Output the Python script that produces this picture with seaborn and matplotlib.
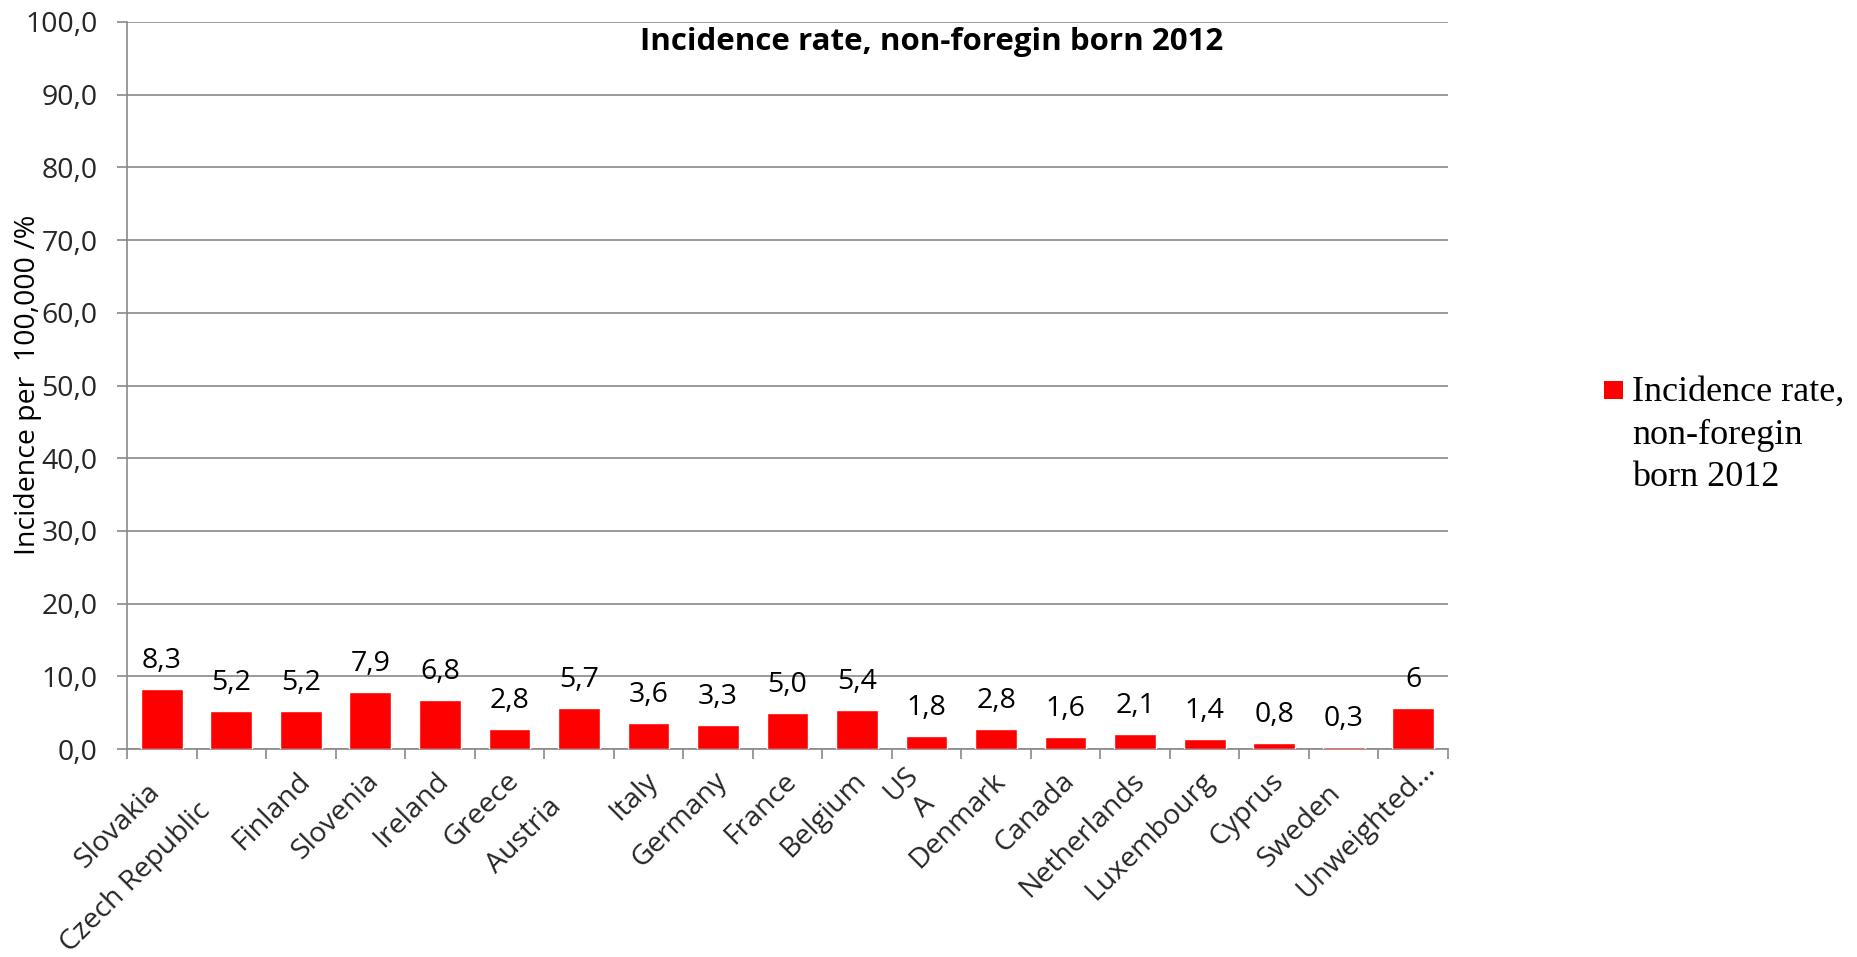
import matplotlib
matplotlib.use("Agg")
import matplotlib.pyplot as plt
import matplotlib.patches as mpatches
import matplotlib.transforms as mtransforms
from matplotlib.ticker import FixedLocator, FuncFormatter
import seaborn as sns
import pandas as pd
import numpy as np

# ---- data -------------------------------------------------------------
countries = ["Slovakia", "Czech Republic", "Finland", "Slovenia", "Ireland",
             "Greece", "Austria", "Italy", "Germany", "France", "Belgium",
             "USA", "Denmark", "Canada", "Netherlands", "Luxembourg",
             "Cyprus", "Sweden", "Unweighted..."]
tick_labels = ["Slovakia", "Czech Republic", "Finland", "Slovenia", "Ireland",
               "Greece", "Austria", "Italy", "Germany", "France", "Belgium",
               "US\nA", "Denmark", "Canada", "Netherlands", "Luxembourg",
               "Cyprus", "Sweden", "Unweighted..."]
rates = [8.3, 5.2, 5.2, 7.9, 6.8, 2.8, 5.7, 3.6, 3.3, 5.0, 5.4,
         1.8, 2.8, 1.6, 2.1, 1.4, 0.8, 0.3, 5.7]
label_decimals = [1] * 18 + [0]
y_ticks = [0, 10, 20, 30, 40, 50, 60, 70, 80, 90, 100]

title = "Incidence rate, non-foregin born 2012"
legend_label = "Incidence rate,\nnon-foregin\nborn 2012"
y_label = "Incidence per  100,000 /%"

# ---- style ------------------------------------------------------------
sns.set_theme(style="white")
plt.rcParams["font.family"] = ["Open Sans", "DejaVu Sans"]

BAR_RED = "#FF0000"
GRID_GREY = "#898989"
FS = 20.5
W, H, DPI = 1858, 957, 100

# slide of some rotated category labels along their own direction (px, + = down-left)
label_slide = {"Slovakia": 16, "Czech Republic": 43, "Austria": 37,
               "Sweden": 17, "Unweighted...": -18, "US\nA": 8}

fig = plt.figure(figsize=(W / DPI, H / DPI), dpi=DPI)
fig.patch.set_facecolor("white")

ax_left, ax_right = 127 / W, 1448 / W
ax_top, ax_bottom = 1 - 22 / H, 1 - 749 / H
ax = fig.add_axes([ax_left, ax_bottom, ax_right - ax_left, ax_top - ax_bottom])
ax.set_facecolor("white")

df = pd.DataFrame({"country": countries, "rate": rates})
sns.barplot(data=df, x="country", y="rate", color=BAR_RED, saturation=1,
            width=0.6, ax=ax, zorder=3)

# value labels above the bars, decimal comma
fmt_labels = [f"{v:.{d}f}".replace(".", ",") for v, d in zip(rates, label_decimals)]
ax.bar_label(ax.containers[0], labels=fmt_labels, padding=10, fontsize=FS,
             color="black", zorder=4)

# y axis
ax.set_ylim(0, 100)
ax.yaxis.set_major_locator(FixedLocator(y_ticks))
ax.yaxis.set_major_formatter(FuncFormatter(lambda v, _: f"{v:.1f}".replace(".", ",")))
ax.grid(axis="y", color=GRID_GREY, linewidth=1.2, zorder=0)
ax.grid(axis="x", visible=False)
ax.tick_params(axis="y", which="major", direction="out", length=7.2, width=1.2,
               color=GRID_GREY, labelsize=FS, pad=14, left=True)
ax.set_ylabel("")

# x axis: labels at category centres, tick marks on category boundaries
n = len(countries)
ax.set_xlim(-0.5, n - 0.5)
ax.set_xticks(range(n))
ax.set_xticklabels(tick_labels, rotation=45, ha="right", va="center",
                   rotation_mode="anchor", fontsize=FS, multialignment="center")
ax.set_xticks(np.arange(-0.5, n, 1.0), minor=True)
ax.tick_params(axis="x", which="major", length=0, pad=20, bottom=True)
ax.tick_params(axis="x", which="minor", direction="out", length=7.2, width=1.2,
               color=GRID_GREY, bottom=True)
ax.set_xlabel("")
for lab in ax.get_xticklabels():
    d = label_slide.get(lab.get_text(), 0) / np.sqrt(2)
    shift = mtransforms.ScaledTranslation((5 - d) / DPI, -d / DPI, fig.dpi_scale_trans)
    lab.set_transform(lab.get_transform() + shift)

for side in ("top", "right"):
    ax.spines[side].set_visible(False)
for side in ("left", "bottom"):
    ax.spines[side].set_color(GRID_GREY)
    ax.spines[side].set_linewidth(1.2)
    ax.spines[side].set_zorder(2.5)

# chart title inside the plot area
ax.text(0.609, 0.9615, title, transform=ax.transAxes, ha="center",
        va="baseline", fontsize=22.5, fontweight="bold", color="black")

# y label
fig.text(28 / W, 1 - 385 / H, y_label, rotation=90, ha="center", va="center",
         fontsize=FS, color="black")

# legend: red square and a wrapped serif label
fig.patches.append(mpatches.Rectangle((1604 / W, 1 - 399 / H), 19 / W, 18 / H,
                                      transform=fig.transFigure,
                                      facecolor=BAR_RED, edgecolor="none"))
fig.text(1632 / W, 1 - 486 / H, legend_label, ha="left", va="baseline",
         fontsize=26, family=["Liberation Serif", "DejaVu Serif"],
         linespacing=1.38, color="black")

fig.savefig("out.png", dpi=DPI, facecolor="white")
